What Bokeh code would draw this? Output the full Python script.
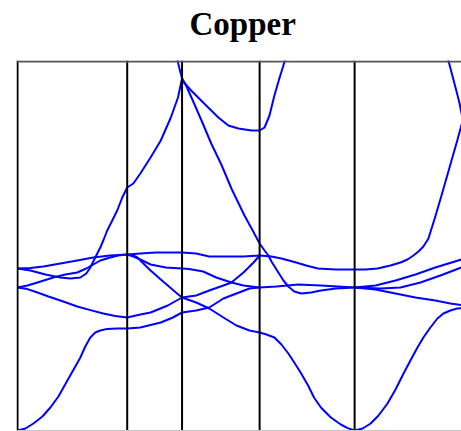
from bokeh.plotting import figure
from bokeh.models import Range1d, Span, Title
from bokeh.embed import file_html
from bokeh.resources import INLINE

# High-symmetry points along the path (k in units of 2*pi/a)
sym_labels = ["Γ", "X", "W", "L", "Γ", "K"]
sym_k = [0.0, 1.0, 1.5, 2.2071, 3.0731, 4.1338]
title_text = "Copper"

# Energies in eV
# ---- Gamma -> X
GX1_k = [0, 0.073, 0.145, 0.227, 0.3, 0.373, 0.455, 0.527, 0.573, 0.618, 0.664, 0.709, 0.755, 0.818, 0.909, 1.0]
GX1_E = [-10.5, -10.4, -10.15, -9.8, -9.35, -8.8, -8.0, -7.3, -6.85, -6.3, -5.85, -5.6, -5.5, -5.42, -5.4, -5.4]
GX2_k = [0, 0.091, 0.182, 0.282, 0.391, 0.545, 0.664, 0.782, 0.891, 1.0]
GX2_E = [-3.35, -3.43, -3.6, -3.8, -4.0, -4.3, -4.48, -4.65, -4.78, -4.85]
GX3_k = [0, 0.091, 0.182, 0.327, 0.436, 0.545, 0.627, 0.691, 0.755, 0.845, 0.918, 1.0]
GX3_E = [-3.35, -3.25, -3.1, -2.85, -2.7, -2.6, -2.4, -2.2, -2.0, -1.85, -1.75, -1.7]
GX4_k = [0, 0.118, 0.236, 0.391, 0.545, 0.691, 0.845, 1.0]
GX4_E = [-2.4, -2.38, -2.3, -2.15, -2.0, -1.85, -1.75, -1.7]
GX5_k = [0, 0.118, 0.255, 0.391, 0.482, 0.573, 0.627, 0.664, 0.709, 0.755, 0.782, 0.818, 0.864, 0.909, 0.955, 1.0]
GX5_E = [-2.4, -2.5, -2.7, -2.85, -2.9, -2.85, -2.65, -2.35, -1.85, -1.35, -1.0, -0.5, 0.0, 0.5, 1.15, 1.65]
# ---- X -> W
XW1_k = [1, 1.056, 1.12, 1.213, 1.306, 1.398, 1.463, 1.5]
XW1_E = [1.65, 1.85, 2.35, 3.15, 4.0, 5.15, 6.15, 7.1]
XW2_k = [1.417, 1.435, 1.463, 1.481, 1.5]
XW2_E = [8.9, 8.5, 7.9, 7.5, 7.1]
XW3_k = [1, 1.12, 1.259, 1.398, 1.5]
XW3_E = [-1.7, -1.65, -1.6, -1.6, -1.6]
XW4_k = [1, 1.056, 1.12, 1.213, 1.352, 1.5]
XW4_E = [-1.7, -1.8, -1.95, -2.2, -2.35, -2.4]
XW5_k = [1, 1.056, 1.093, 1.148, 1.213, 1.306, 1.37, 1.444, 1.5]
XW5_E = [-1.7, -1.75, -1.85, -2.15, -2.5, -2.95, -3.25, -3.6, -3.85]
XW6_k = [1, 1.12, 1.213, 1.37, 1.5]
XW6_E = [-4.85, -4.7, -4.6, -4.25, -3.85]
XW7_k = [1, 1.12, 1.306, 1.417, 1.5]
XW7_E = [-5.4, -5.35, -5.1, -4.85, -4.6]
# ---- W -> L
WL1_k = [1.5, 1.518, 1.583, 1.674, 1.831, 1.922, 2.014, 2.134, 2.207]
WL1_E = [7.1, 6.9, 6.5, 6.0, 5.15, 4.75, 4.6, 4.5, 4.5]
WL2_k = [1.5, 1.537, 1.61, 1.693, 1.766, 1.858, 1.95, 2.069, 2.134, 2.207]
WL2_E = [7.1, 6.75, 5.85, 4.8, 3.85, 2.8, 1.6, 0.25, -0.4, -1.15]
WL3_k = [1.5, 1.629, 1.748, 1.904, 2.06, 2.207]
WL3_E = [-1.6, -1.65, -1.8, -1.8, -1.8, -1.75]
WL4_k = [1.5, 1.564, 1.693, 1.812, 1.95, 2.06, 2.207]
WL4_E = [-2.4, -2.43, -2.55, -2.85, -3.1, -3.25, -3.35]
WL5_k = [1.5, 1.629, 1.748, 1.877, 1.95, 2.06, 2.152, 2.207]
WL5_E = [-3.85, -3.75, -3.5, -3.25, -3.1, -2.6, -2.1, -1.75]
WL6_k = [1.5, 1.629, 1.748, 1.877, 1.996, 2.115, 2.207]
WL6_E = [-3.85, -4.1, -4.4, -4.85, -5.25, -5.5, -5.6]
WL7_k = [1.5, 1.629, 1.748, 1.877, 1.996, 2.115, 2.207]
WL7_E = [-4.6, -4.5, -4.35, -3.9, -3.65, -3.4, -3.35]
# ---- L -> Gamma
LG1_k = [2.207, 2.252, 2.297, 2.342, 2.387, 2.424, 2.451, 2.47]
LG1_E = [4.5, 4.65, 5.25, 6.25, 7.1, 7.75, 8.25, 9.0]
LG2_k = [2.207, 2.252, 2.288, 2.315, 2.378, 2.424, 2.469, 2.523, 2.586, 2.676, 2.766, 2.902, 3.073]
LG2_E = [-1.15, -1.5, -1.75, -2.05, -2.6, -3.0, -3.3, -3.55, -3.65, -3.6, -3.5, -3.4, -3.35]
LG3_k = [2.207, 2.315, 2.406, 2.541, 2.631, 2.739, 2.902, 3.073]
LG3_E = [-1.75, -1.8, -1.9, -2.1, -2.25, -2.4, -2.45, -2.45]
LG4_k = [2.207, 2.36, 2.559, 2.766, 3.073]
LG4_E = [-3.35, -3.3, -3.2, -3.25, -3.35]
LG5_k = [2.207, 2.27, 2.342, 2.406, 2.469, 2.523, 2.586, 2.649, 2.703, 2.766, 2.857, 2.947, 3.01, 3.073]
LG5_E = [-5.6, -5.7, -5.85, -6.2, -6.65, -7.1, -7.65, -8.25, -8.85, -9.35, -9.85, -10.2, -10.38, -10.5]
# ---- Gamma -> K
GK1_k = [3.073, 3.146, 3.219, 3.291, 3.373, 3.446, 3.519, 3.582, 3.646, 3.7, 3.764, 3.828, 3.882, 3.946, 4.009, 4.137]
GK1_E = [-10.5, -10.4, -10.15, -9.75, -9.15, -8.45, -7.65, -7.0, -6.35, -5.85, -5.35, -4.9, -4.65, -4.5, -4.4, -4.35]
GK2_k = [3.073, 3.173, 3.282, 3.4, 3.491, 3.555, 3.609, 3.655, 3.7, 3.746, 3.809, 3.873, 3.946, 4.009, 4.046, 4.137]
GK2_E = [-2.45, -2.45, -2.4, -2.25, -2.1, -1.95, -1.75, -1.55, -1.3, -0.9, 0.2, 1.4, 2.8, 4.0, 4.75, 6.25]
GK3_k = [3.9, 3.928, 3.964, 4.0, 4.028, 4.046, 4.064]
GK3_E = [8.75, 8.0, 7.25, 6.5, 5.9, 5.4, 5.0]
GK4_k = [3.073, 3.264, 3.446, 3.628, 3.809, 4.046, 4.137]
GK4_E = [-3.35, -3.25, -3.0, -2.7, -2.35, -1.95, -1.8]
GK5_k = [3.073, 3.309, 3.491, 3.673, 3.855, 4.046, 4.137]
GK5_E = [-3.35, -3.4, -3.35, -3.1, -2.75, -2.35, -2.2]
GK6_k = [3.073, 3.264, 3.446, 3.628, 3.809, 3.946, 4.137]
GK6_E = [-3.35, -3.45, -3.65, -3.85, -4.0, -4.15, -4.3]

bands = [
    (GX1_k, GX1_E), (GX2_k, GX2_E), (GX3_k, GX3_E), (GX4_k, GX4_E), (GX5_k, GX5_E),
    (XW1_k, XW1_E), (XW2_k, XW2_E), (XW3_k, XW3_E), (XW4_k, XW4_E), (XW5_k, XW5_E),
    (XW6_k, XW6_E), (XW7_k, XW7_E),
    (WL1_k, WL1_E), (WL2_k, WL2_E), (WL3_k, WL3_E), (WL4_k, WL4_E), (WL5_k, WL5_E),
    (WL6_k, WL6_E), (WL7_k, WL7_E),
    (LG1_k, LG1_E), (LG2_k, LG2_E), (LG3_k, LG3_E), (LG4_k, LG4_E), (LG5_k, LG5_E),
    (GK1_k, GK1_E), (GK2_k, GK2_E), (GK3_k, GK3_E), (GK4_k, GK4_E), (GK5_k, GK5_E),
    (GK6_k, GK6_E),
]

PX_PER_K = 109.7
PX_PER_E = 20.0
W, H = 461, 431
BL, BT = 16, 60
frame_w = W - BL
frame_h = H - BT
x0 = -1.0 / PX_PER_K
y1 = 8.0

p = figure(width=W, height=H, output_backend="svg", toolbar_location=None,
           x_axis_location=None, y_axis_location=None,
           x_range=Range1d(x0, x0 + frame_w / PX_PER_K),
           y_range=Range1d(y1 - frame_h / PX_PER_E, y1),
           min_border_left=BL, min_border_right=0, min_border_top=BT, min_border_bottom=0)
p.grid.grid_line_color = None
p.outline_line_color = None
p.background_fill_color = "white"
p.border_fill_color = "white"

# empty spacer panel between the title and the frame
p.add_layout(Title(text=" ", text_font_size="12px", standoff=2), "above")

p.title.text = title_text
p.title.text_font = "Liberation Serif"
p.title.text_font_size = "33px"
p.title.text_font_style = "bold"
p.title.text_color = "black"
p.title.align = "left"
p.title.offset = 173
p.title.standoff = 2

for k, e in bands:
    p.line(k, e, line_color="#0000ff", line_width=2, line_join="round")

for ks in sym_k[:5]:
    p.add_layout(Span(location=ks, dimension="height", line_color="black", line_width=2))
p.add_layout(Span(location=y1 - 1.0 / PX_PER_E, dimension="width", line_color="#555555", line_width=2))
p.add_layout(Span(location=y1 - (frame_h - 1.0) / PX_PER_E, dimension="width",
                  line_color="#c8c8c8", line_width=1))

open("out.html", "w").write(file_html(p, INLINE))
